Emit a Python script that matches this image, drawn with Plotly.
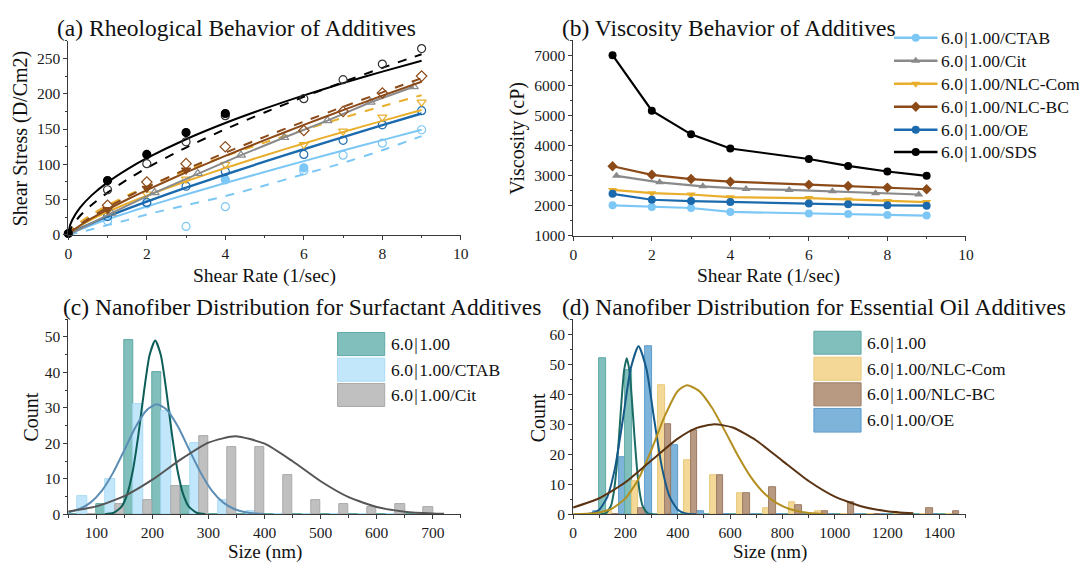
import plotly.graph_objects as go

W, H = 1079, 565
FONT = "Liberation Serif"

# ---------------- Panel (a): shear stress vs shear rate ----------------
rate = [1, 2, 3, 4, 6, 7, 8, 9]
sds_open = [64, 101, 132, 169, 193, 220, 242, 264]
sds_fill_x = [0, 1, 2, 3, 4]
sds_fill = [2, 77, 114, 145, 172]
bc_open = [42, 75, 101, 125, 148, 175, 201, 225]
bc_fill_x = [1, 2, 3]
bc_fill = [36, 66, 92]
cit_x = [1.1, 2.2, 3.3, 4.4, 5.5, 6.6, 7.7, 8.8]
cit_open = [31, 60, 87, 113, 138, 162, 188, 210]
com_open = [35, 58, 79, 100, 128, 147, 167, 188]
oe_open = [26, 46, 69, 90, 114, 134, 156, 176]
ctab_open = [20, 44, 12, 40, 91, 113, 130, 149]
ctab_fill_x = [4, 6]
ctab_fill = [78, 95]

fit_x_sds = [0, 0.02, 0.1, 0.3, 0.6, 1, 1.5, 2, 3, 4, 5, 6, 7, 8, 9]
sds_fit = [0, 8.8, 21.2, 38.7, 56.4, 74.5, 92.9, 108.7, 135.6, 158.6, 179, 197.7, 215, 231.4, 246.7]
fit_x = [0, 0.1, 0.3, 0.6, 1, 1.5, 2, 3, 4, 5, 6, 7, 8, 9]
sds_dash = [0, 13.1, 27.1, 42.8, 60, 78.4, 94.8, 123.8, 149.8, 173.5, 195.6, 216.6, 236.7, 256]
bc_fit = [0, 5.5, 13.4, 23.7, 36, 50.2, 63.5, 88.5, 111.9, 134.3, 155.9, 176.8, 197.3, 217]
bc_dash = [0, 6.5, 15, 26, 39, 54, 67.5, 93, 116.5, 139, 160.5, 181.5, 202, 222]
com_fit = [0, 5.5, 12.9, 22, 32.6, 44.5, 55.6, 76, 94.8, 112.6, 129.6, 145.9, 161.6, 177]
com_dash = [0, 8.3, 18, 29.3, 42, 55.9, 68.5, 91.2, 111.8, 130.8, 148.8, 166, 182.3, 198]
oe_fit = [0, 3.6, 9.2, 16.8, 26, 36.8, 47.2, 66.9, 85.6, 103.8, 121.4, 138.6, 155.5, 172]
ctab_fit = [0, 3.0, 7.7, 14.1, 22, 31.3, 40.2, 57.2, 73.5, 89.2, 104.6, 119.6, 134.3, 149]
ctab_dash = [0, 1.3, 4, 8, 14, 21, 29, 42, 55, 70, 86, 102, 120, 140]

# ---------------- Panel (b): viscosity ----------------
visc_x = [1, 2, 3, 4, 6, 7, 8, 9]
cit_vx = [1.1, 2.2, 3.3, 4.4, 5.5, 6.6, 7.7, 8.8]
ctab_v = [2015, 1960, 1927, 1796, 1742, 1731, 1698, 1676]
cit_v = [2996, 2778, 2647, 2560, 2527, 2484, 2418, 2375]
com_v = [2527, 2418, 2375, 2287, 2255, 2211, 2156, 2124]
bc_v = [3313, 3029, 2887, 2800, 2702, 2658, 2604, 2549]
oe_v = [2396, 2200, 2156, 2124, 2080, 2047, 2015, 2004]
sds_v = [7000, 5156, 4371, 3902, 3553, 3324, 3138, 2996]
legend_b = ["6.0\u200a|\u200a1.00/CTAB", "6.0\u200a|\u200a1.00/Cit", "6.0\u200a|\u200a1.00/NLC-Com",
            "6.0\u200a|\u200a1.00/NLC-BC", "6.0\u200a|\u200a1.00/OE", "6.0\u200a|\u200a1.00/SDS"]

# ---------------- Panel (c): surfactant distributions ----------------
c_bins = [75, 125, 175, 225, 275, 325, 375, 425, 475, 525, 575, 625, 675]
c_base = [0, 3, 49, 40, 8, 0, 0, 0, 0, 0, 0, 0, 0]
c_ctab = [5, 10, 31, 29, 20, 4, 1, 0, 0, 0, 0, 0, 0]
c_cit = [0, 3, 4, 8, 22, 19, 19, 11, 4, 3, 2, 3, 2]
c_base_cx = [115, 130, 145, 155, 165, 175, 185, 195, 205, 215, 225, 235, 245, 255, 265, 280, 295]
c_base_cy = [0.04, 0.37, 2.15, 5.6, 12.2, 22.4, 34.6, 44.9, 49, 44.9, 34.6, 22.4, 12.2, 5.6, 2.15, 0.37, 0.04]
c_ctab_cx = [50, 70, 90, 110, 130, 150, 170, 190, 208, 226, 246, 266, 286, 306, 326, 346, 366, 386, 400]
c_ctab_cy = [0.58, 1.49, 3.37, 6.7, 11.75, 18.1, 24.6, 29.4, 31, 29.4, 24.6, 18.1, 11.75, 6.7, 3.37, 1.49, 0.58, 0.2, 0.09]
c_cit_cx = [50, 100, 150, 200, 250, 300, 348, 400, 450, 500, 550, 600, 650, 700, 720]
c_cit_cy = [0.81, 2.24, 5.13, 9.75, 15.4, 20.2, 22, 19.9, 14.95, 9.32, 4.83, 2.08, 0.74, 0.22, 0.13]
legend_c = ["6.0\u200a|\u200a1.00", "6.0\u200a|\u200a1.00/CTAB", "6.0\u200a|\u200a1.00/Cit"]

# ---------------- Panel (d): essential-oil distributions ----------------
d_bins = [125, 225, 325, 425, 525, 625, 725, 825, 925, 1025, 1125, 1225, 1325, 1425]
d_oe = [1, 19, 56, 23, 1, 0, 0, 0, 0, 0, 0, 0, 0, 0]
d_base = [52, 48, 0, 0, 0, 0, 0, 0, 0, 0, 0, 0, 0, 0]
d_com = [1, 11, 43, 18, 13, 7, 2, 4, 1, 0, 0, 0, 0, 0]
d_bc = [0, 2, 30, 28, 13, 7, 9, 3, 1, 4, 0, 0, 2, 1]
d_base_cx = [105, 125, 145, 155, 165, 175, 185, 195, 205, 215, 225, 235, 245, 255, 265, 285, 305]
d_base_cy = [0.02, 0.31, 2.92, 7.04, 14.5, 25.3, 37.8, 48.0, 52, 48.0, 37.8, 25.3, 14.5, 7.04, 2.92, 0.31, 0.02]
d_oe_cx = [30, 70, 100, 130, 160, 190, 220, 250, 280, 310, 340, 370, 400, 430, 470]
d_oe_cy = [0.02, 0.32, 1.55, 5.64, 15.4, 31.5, 48.5, 56, 48.5, 31.5, 15.4, 5.64, 1.55, 0.32, 0.02]
d_com_cx = [0, 50, 100, 150, 200, 250, 300, 350, 400, 435, 480, 530, 580, 630, 680, 730, 780, 830, 880, 930, 960]
d_com_cy = [0.03, 0.16, 0.62, 2.0, 5.33, 11.8, 21.6, 32.7, 41.1, 43, 41.2, 35.6, 27.8, 19.5, 12.3, 7.03, 3.61, 1.67, 0.70, 0.26, 0.14]
d_bc_cx = [0, 100, 200, 300, 400, 470, 540, 610, 700, 800, 900, 1000, 1100, 1200, 1300]
d_bc_cy = [2.24, 5.36, 10.7, 18.0, 25.2, 28.7, 30, 28.9, 24.6, 17.8, 11.1, 5.9, 2.69, 1.05, 0.35]
legend_d = ["6.0\u200a|\u200a1.00", "6.0\u200a|\u200a1.00/NLC-Com", "6.0\u200a|\u200a1.00/NLC-BC", "6.0\u200a|\u200a1.00/OE"]

# colours
C_CTAB, C_CIT, C_COM, C_BC, C_OE, C_SDS = "#7CC7F5", "#8A8A8A", "#E8AE2C", "#8B4A18", "#1B6AAE", "#000000"

fig = go.Figure()

def px_x(v):
    return v / W

def px_y(v):
    return 1 - v / H

def line(x, y, color, dash="solid", width=2, xa="x", ya="y", shape="spline"):
    fig.add_trace(go.Scatter(x=x, y=y, mode="lines", xaxis=xa, yaxis=ya, showlegend=False,
                             line=dict(color=color, width=width, dash=dash, shape=shape, smoothing=0.6),
                             hoverinfo="skip"))

def marks(x, y, color, symbol, size=8, xa="x", ya="y"):
    fig.add_trace(go.Scatter(x=x, y=y, mode="markers", xaxis=xa, yaxis=ya, showlegend=False, cliponaxis=False,
                             marker=dict(color=color, symbol=symbol, size=size, line=dict(color=color, width=1.2)),
                             hoverinfo="skip"))

# ---- (a)
line(fit_x, ctab_dash, C_CTAB, dash="dash")
line(fit_x, ctab_fit, C_CTAB)
marks(rate, ctab_open, C_CTAB, "circle-open")
marks(ctab_fill_x, ctab_fill, C_CTAB, "circle")
line(fit_x, oe_fit, C_OE, width=2.4)
marks(rate, oe_open, C_OE, "circle-open")
line(fit_x, com_dash, C_COM, dash="dash")
line(fit_x, com_fit, C_COM)
marks(rate, com_open, C_COM, "triangle-down-open")
line([0] + cit_x, [0] + cit_open, C_CIT, shape="linear")
marks(cit_x, cit_open, C_CIT, "triangle-up-open")
line(fit_x, bc_dash, C_BC, dash="dash")
line(fit_x, bc_fit, C_BC)
marks(rate, bc_open, C_BC, "diamond-open")
marks(bc_fill_x, bc_fill, C_BC, "triangle-down")
line(fit_x, sds_dash, C_SDS, dash="dash")
line(fit_x_sds, sds_fit, C_SDS)
marks(rate, sds_open, "#333333", "circle-open")
marks(sds_fill_x, sds_fill, C_SDS, "circle")

# ---- (b)
series_b = [(visc_x, ctab_v, C_CTAB, "circle"), (cit_vx, cit_v, C_CIT, "triangle-up"),
            (visc_x, com_v, C_COM, "triangle-down"), (visc_x, bc_v, C_BC, "diamond"),
            (visc_x, oe_v, C_OE, "circle"), (visc_x, sds_v, C_SDS, "circle")]
for xs, ys, col, sym in series_b:
    fig.add_trace(go.Scatter(x=xs, y=ys, mode="lines+markers", xaxis="x2", yaxis="y2", showlegend=False,
                             line=dict(color=col, width=2.2), marker=dict(color=col, symbol=sym, size=8),
                             cliponaxis=False, hoverinfo="skip"))

# ---- (c)
bar_c = [(c_base, "#80BFBB", "#5FAAA5"), (c_ctab, "#C2E7FB", "#A9DBF6"), (c_cit, "#C0C0C0", "#A9A9A9")]
for vals, fill, edge in bar_c:
    fig.add_trace(go.Bar(x=c_bins, y=vals, xaxis="x3", yaxis="y3", showlegend=False,
                         marker=dict(color=fill, line=dict(color=edge, width=1)), hoverinfo="skip"))
line(c_base_cx, c_base_cy, "#0E5E58", xa="x3", ya="y3")
line(c_ctab_cx, c_ctab_cy, "#5B8DB5", xa="x3", ya="y3")
line(c_cit_cx, c_cit_cy, "#555555", xa="x3", ya="y3")

# ---- (d)
bar_d = [(d_oe, "#7EB4DA", "#5E9CCB"), (d_base, "#80BFBB", "#5FAAA5"),
         (d_com, "#F3D898", "#E9C97A"), (d_bc, "#B89A82", "#9C7A62")]
for vals, fill, edge in bar_d:
    fig.add_trace(go.Bar(x=d_bins, y=vals, xaxis="x4", yaxis="y4", showlegend=False,
                         marker=dict(color=fill, line=dict(color=edge, width=1)), hoverinfo="skip"))
line(d_base_cx, d_base_cy, "#1A6B66", xa="x4", ya="y4")
line(d_oe_cx, d_oe_cy, "#165A8A", xa="x4", ya="y4")
line(d_com_cx, d_com_cy, "#B38F1F", xa="x4", ya="y4")
line(d_bc_cx, d_bc_cy, "#5A3412", xa="x4", ya="y4")

# ---- legend for (b), drawn on an overlay pixel axis
rows_b = [38.3, 61.7, 85, 108.3, 131.7, 154.3]
annotations = []
for (xs, ys, col, sym), yy, lab in zip(series_b, rows_b, legend_b):
    fig.add_trace(go.Scatter(x=[900, 944], y=[yy, yy], mode="lines", xaxis="x5", yaxis="y5", showlegend=False,
                             line=dict(color=col, width=2.5), hoverinfo="skip", cliponaxis=False))
    fig.add_trace(go.Scatter(x=[922], y=[yy], mode="markers", xaxis="x5", yaxis="y5", showlegend=False,
                             marker=dict(color=col, symbol=sym, size=8), hoverinfo="skip", cliponaxis=False))
    annotations.append(dict(x=px_x(946), y=px_y(yy), xref="paper", yref="paper", text=lab, showarrow=False,
                            xanchor="left", yanchor="middle", font=dict(family=FONT, size=17.5, color="#111")))

shapes = []
# legend (c)
rows_c = [(337.3, 360.7), (363.3, 386.7), (389.0, 412.3)]
for (y0, y1), lab, (vals, fill, edge) in zip(rows_c, legend_c, bar_c):
    shapes.append(dict(type="rect", xref="paper", yref="paper", x0=px_x(337.3), x1=px_x(385),
                       y0=px_y(y1), y1=px_y(y0), fillcolor=fill, line=dict(color=edge, width=1)))
    annotations.append(dict(x=px_x(389.3), y=px_y((y0 + y1) / 2), xref="paper", yref="paper", text=lab,
                            showarrow=False, xanchor="left", yanchor="middle",
                            font=dict(family=FONT, size=17.5, color="#111")))
# legend (d)
rows_d = [(336.0, 359.3), (362.3, 385.7), (388.3, 411.7), (414.3, 438.3)]
fills_d = [bar_d[1], bar_d[2], bar_d[3], bar_d[0]]
for (y0, y1), lab, (vals, fill, edge) in zip(rows_d, legend_d, fills_d):
    shapes.append(dict(type="rect", xref="paper", yref="paper", x0=px_x(819), x1=px_x(866.7),
                       y0=px_y(y1), y1=px_y(y0), fillcolor=fill, line=dict(color=edge, width=1)))
    annotations.append(dict(x=px_x(871), y=px_y((y0 + y1) / 2), xref="paper", yref="paper", text=lab,
                            showarrow=False, xanchor="left", yanchor="middle",
                            font=dict(family=FONT, size=17.5, color="#111")))

# titles and axis titles
def txt(x, y, s, size, angle=0):
    annotations.append(dict(x=px_x(x), y=px_y(y), xref="paper", yref="paper", text=s, showarrow=False,
                            xanchor="center", yanchor="middle", textangle=angle,
                            font=dict(family=FONT, size=size, color="#111")))

txt(235, 28, "(a) Rheological Behavior of Additives", 23.5)
txt(733, 28, "(b) Viscosity Behavior of Additives", 23.5)
txt(301, 311, "(c) Nanofiber Distribution for Surfactant Additives", 23.5)
txt(819, 311, "(d) Nanofiber Distribution for Essential Oil Additives", 23.5)
txt(17, 140.5, "Shear Stress (D/Cm2)", 20, -90)
txt(263, 279.5, "Shear Rate (1/sec)", 19.5)
txt(518.5, 140, "Viscosity (cP)", 20, -90)
txt(773, 279.5, "Shear Rate (1/sec)", 19.5)
txt(27.5, 423.3, "Count", 20, -90)
txt(263.5, 559.5, "Size (nm)", 19)
txt(540, 423.3, "Count", 20, -90)
txt(774.5, 559.5, "Size (nm)", 19)


def axis(domain, rng, dtick, minor, anchor, tick0=0):
    return dict(domain=domain, range=rng, anchor=anchor, showline=True, linecolor="#3a3a3a", linewidth=1,
                ticks="outside", ticklen=4, tickwidth=1, tickcolor="#3a3a3a", dtick=dtick, tick0=tick0,
                showgrid=False, zeroline=False, fixedrange=True, ticklabelstandoff=0,
                tickfont=dict(family=FONT, size=15.5, color="#1a1a1a"),
                minor=dict(dtick=minor, ticks="outside", ticklen=2.5, tickcolor="#3a3a3a", showgrid=False))

fig.update_layout(
    width=W, height=H, margin=dict(l=0, r=0, t=0, b=0),
    paper_bgcolor="white", plot_bgcolor="rgba(0,0,0,0)",
    barmode="group", bargap=0, bargroupgap=0, showlegend=False,
    xaxis=axis([65 / W, 462 / W], [0, 10], 2, 1, "y"),
    yaxis=axis([px_y(238.3), px_y(41.4)], [0, 275], 50, 25, "x"),
    xaxis2=axis([575.7 / W, 972.7 / W], [0, 10], 2, 1, "y2"),
    yaxis2=axis([px_y(239.3), px_y(40.7)], [1000, 7500], 1000, 500, "x2"),
    xaxis3=axis([65 / W, 462 / W], [50, 750], 100, 50, "y3"),
    yaxis3=axis([px_y(521.7), px_y(323.7)], [0, 55], 10, 5, "x3"),
    xaxis4=axis([575.5 / W, 972.5 / W], [0, 1500], 200, 100, "y4"),
    yaxis4=axis([px_y(521.7), px_y(323.8)], [0, 65], 10, 5, "x4"),
    xaxis5=dict(domain=[0, 1], range=[0, W], visible=False, anchor="y5", fixedrange=True),
    yaxis5=dict(domain=[0, 1], range=[H, 0], visible=False, anchor="x5", fixedrange=True),
    annotations=annotations, shapes=shapes,
)

fig.write_html("out.html")
